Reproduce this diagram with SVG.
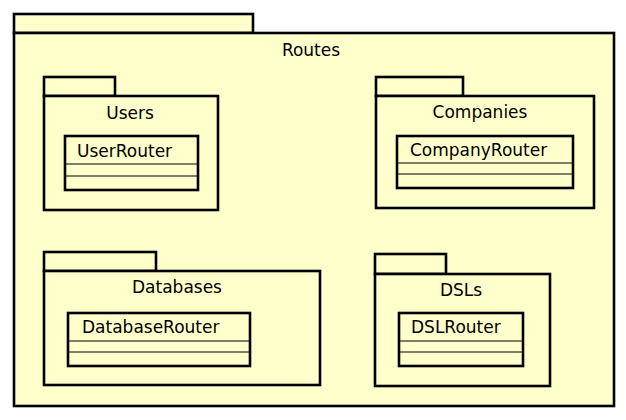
<svg xmlns="http://www.w3.org/2000/svg" width="626" height="420" viewBox="0 0 626 420">
<style>
.pk{fill:#FFFFCC;stroke:#000;stroke-width:2.6}
.cl{fill:#FFFFCC;stroke:#000;stroke-width:2.6}
.sep{stroke:#000;stroke-width:1}
text{font-family:"DejaVu Sans",sans-serif;font-size:17px;fill:#000}
.c{text-anchor:middle}
</style>
<rect width="626" height="420" fill="#fff"/>
<g id="Routes">
<rect class="pk" x="14" y="14" width="239" height="19"/>
<rect class="pk" x="14" y="33" width="600" height="373"/>
<text class="c" x="311" y="56">Routes</text>
</g>
<g id="Users">
<rect class="pk" x="44" y="77" width="71" height="19"/>
<rect class="pk" x="44" y="96" width="174" height="114"/>
<text class="c" x="130" y="119">Users</text>
</g>
<g id="UserRouter">
<rect class="cl" x="65" y="136" width="133" height="54"/>
<text x="77" y="157">UserRouter</text>
<line class="sep" x1="65" y1="164" x2="198" y2="164"/>
<line class="sep" x1="65" y1="176" x2="198" y2="176"/>
</g>
<g id="Companies">
<rect class="pk" x="376" y="77" width="87" height="19"/>
<rect class="pk" x="376" y="96" width="218" height="112"/>
<text class="c" x="480" y="118">Companies</text>
</g>
<g id="CompanyRouter">
<rect class="cl" x="397" y="136" width="176" height="52"/>
<text x="410" y="156">CompanyRouter</text>
<line class="sep" x1="397" y1="163" x2="573" y2="163"/>
<line class="sep" x1="397" y1="174" x2="573" y2="174"/>
</g>
<g id="Databases">
<rect class="pk" x="44" y="252" width="112" height="19"/>
<rect class="pk" x="44" y="271" width="276" height="114"/>
<text class="c" x="177" y="293">Databases</text>
</g>
<g id="DatabaseRouter">
<rect class="cl" x="68" y="313" width="182" height="53"/>
<text x="82" y="333">DatabaseRouter</text>
<line class="sep" x1="68" y1="341" x2="250" y2="341"/>
<line class="sep" x1="68" y1="352" x2="250" y2="352"/>
</g>
<g id="DSLs">
<rect class="pk" x="375" y="254" width="71" height="20"/>
<rect class="pk" x="375" y="274" width="175" height="112"/>
<text class="c" x="461" y="296">DSLs</text>
</g>
<g id="DSLRouter">
<rect class="cl" x="399" y="313" width="124" height="53"/>
<text x="411" y="333">DSLRouter</text>
<line class="sep" x1="399" y1="341" x2="523" y2="341"/>
<line class="sep" x1="399" y1="352" x2="523" y2="352"/>
</g>
<g id="connectors"></g>
</svg>
